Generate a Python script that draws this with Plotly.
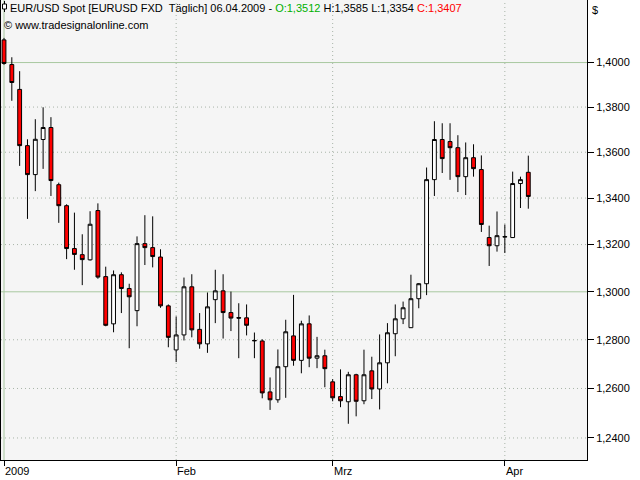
import math
import pandas as pd
import plotly.graph_objects as go

# ---- data (EUR/USD daily, 01.01.2009 - 06.04.2009) ----
dates = pd.bdate_range("2009-01-01", "2009-04-06")

open_ = [1.4103, 1.3991, 1.3879, 1.3629, 1.3502, 1.3656, 1.3709, 1.3458, 1.3367, 1.3183,
         1.3157, 1.3135, 1.3346, 1.3064, 1.2866, 1.3072, 1.3014, 1.2921, 1.3204, 1.3187,
         1.3147, 1.2941, 1.2758, 1.2820, 1.3021, 1.2843, 1.2783, 1.2967, 1.3004, 1.2913,
         1.2892, 1.2891, 1.2797, 1.2795, 1.2586, 1.2554, 1.2689, 1.2816, 1.2715, 1.2866,
         1.2724, 1.2734, 1.2627, 1.2567, 1.2546, 1.2656, 1.2550, 1.2672, 1.2598, 1.2705,
         1.2825, 1.2887, 1.2850, 1.2971, 1.3034, 1.3480, 1.3656, 1.3647, 1.3620, 1.3493,
         1.3576, 1.3524, 1.3230, 1.3195, 1.3232, 1.3230, 1.3463, 1.3512]
high = [1.4112, 1.4024, 1.3961, 1.3657, 1.3746, 1.3799, 1.3755, 1.3467, 1.3373, 1.3337,
        1.3244, 1.3343, 1.3377, 1.3106, 1.3090, 1.3082, 1.3034, 1.3235, 1.3326, 1.3321,
        1.3180, 1.2947, 1.2897, 1.3060, 1.3074, 1.2911, 1.2997, 1.3093, 1.3074, 1.3001,
        1.2952, 1.2947, 1.2830, 1.2802, 1.2645, 1.2760, 1.2883, 1.2987, 1.2879, 1.2901,
        1.2812, 1.2759, 1.2638, 1.2678, 1.2668, 1.2660, 1.2759, 1.2730, 1.2822, 1.2869,
        1.2947, 1.2959, 1.3072, 1.3037, 1.3533, 1.3737, 1.3728, 1.3728, 1.3675, 1.3643,
        1.3635, 1.3586, 1.3281, 1.3342, 1.3286, 1.3515, 1.3493, 1.3585]
low = [1.3990, 1.3828, 1.3540, 1.3310, 1.3430, 1.3527, 1.3409, 1.3293, 1.3138, 1.3093,
       1.3028, 1.3132, 1.3055, 1.2856, 1.2831, 1.2911, 1.2765, 1.2856, 1.3113, 1.3103,
       1.2933, 1.2769, 1.2708, 1.2797, 1.2810, 1.2763, 1.2746, 1.2869, 1.2805, 1.2836,
       1.2724, 1.2818, 1.2724, 1.2560, 1.2513, 1.2542, 1.2562, 1.2693, 1.2662, 1.2687,
       1.2683, 1.2605, 1.2548, 1.2524, 1.2457, 1.2487, 1.2536, 1.2557, 1.2515, 1.2621,
       1.2732, 1.2865, 1.2849, 1.2931, 1.2986, 1.3409, 1.3509, 1.3479, 1.3426, 1.3413,
       1.3493, 1.3254, 1.3109, 1.3170, 1.3164, 1.3228, 1.3357, 1.3354]
close = [1.3996, 1.3910, 1.3629, 1.3502, 1.3657, 1.3709, 1.3476, 1.3367, 1.3183, 1.3158,
         1.3136, 1.3287, 1.3062, 1.2860, 1.3072, 1.3014, 1.2979, 1.3204, 1.3187, 1.3149,
         1.2941, 1.2810, 1.2820, 1.3021, 1.2841, 1.2783, 1.2937, 1.3004, 1.2913, 1.2890,
         1.2890, 1.2860, 1.2796, 1.2582, 1.2554, 1.2689, 1.2833, 1.2715, 1.2866, 1.2724,
         1.2734, 1.2681, 1.2562, 1.2550, 1.2656, 1.2548, 1.2656, 1.2598, 1.2705, 1.2829,
         1.2887, 1.2933, 1.2971, 1.3034, 1.3480, 1.3656, 1.3572, 1.3620, 1.3493, 1.3576,
         1.3528, 1.3286, 1.3195, 1.3238, 1.3234, 1.3463, 1.3480, 1.3407]

month_labels = ["2009", "Feb", "Mrz", "Apr"]
y_tick_values = [1.24, 1.26, 1.28, 1.30, 1.32, 1.34, 1.36, 1.38, 1.40]
ref_levels = [1.30, 1.40]
y_limits = [1.2312, 1.4286]

header_text = ("EUR/USD Spot [EURUSD FXD&nbsp; Täglich] 06.04.2009 - "
               "<span style='color:#00b000'>O:1,3512</span> H:1,3585 L:1,3354 "
               "<span style='color:#ff0000'>C:1,3407</span>")
copyright_text = "© www.tradesignalonline.com"

# ---- figure ----
x = list(range(len(dates)))
month_idx = [0] + [i for i in range(1, len(dates)) if dates[i].month != dates[i - 1].month]
y_tick_text = [f"{v:.4f}".replace(".", ",") for v in y_tick_values]

FONT = "Liberation Sans, Arial, sans-serif"
W, H = 640, 480
ML, MR, MT, MB = 1, 53, 0, 20
PW, PH = W - ML - MR, H - MT - MB

def px(xp):
    return (xp - ML) / PW

def py(yp):
    return 1 - (yp - MT) / PH

fig = go.Figure(go.Candlestick(
    x=x, open=open_, high=high, low=low, close=close,
    increasing=dict(fillcolor="#ffffff", line=dict(color="#000000", width=1)),
    decreasing=dict(fillcolor="#ff0000", line=dict(color="#000000", width=1)),
    whiskerwidth=0, hoverinfo="skip",
))

DOT = "1px,3px"
GREEN = "#a8c8a0"
DOTCOL = "#a8b4a8"
shapes = []
for v in y_tick_values:
    solid = any(abs(v - r) < 1e-9 for r in ref_levels)
    shapes.append(dict(type="line", xref="paper", yref="y", x0=0, x1=1,
                       y0=v, y1=v, layer="below",
                       line=dict(color=GREEN if solid else DOTCOL, width=1,
                                 dash="solid" if solid else DOT)))
for k, mi in enumerate(month_idx):
    shapes.append(dict(type="line", xref="x", yref="paper", x0=mi, x1=mi, y0=0, y1=1,
                       layer="below",
                       line=dict(color=GREEN if k == 0 else DOTCOL, width=1,
                                 dash="solid" if k == 0 else DOT)))
# small chart icon in header
shapes.append(dict(type="line", xref="paper", yref="paper", x0=px(4.5), x1=px(4.5),
                   y0=py(1), y1=py(12), line=dict(color="#000000", width=1)))
shapes.append(dict(type="rect", xref="paper", yref="paper", x0=px(2.5), x1=px(6.5),
                   y0=py(4), y1=py(9), fillcolor="#ffffff",
                   line=dict(color="#000000", width=1)))

annotations = [
    dict(text=header_text, xref="paper", yref="paper", x=px(8), y=py(8),
         xanchor="left", yanchor="middle", showarrow=False,
         font=dict(family=FONT, size=11, color="#000000")),
    dict(text=copyright_text, xref="paper", yref="paper", x=px(2), y=py(25),
         xanchor="left", yanchor="middle", showarrow=False,
         font=dict(family=FONT, size=11, color="#000000")),
    dict(text="$", xref="paper", yref="paper", x=px(590), y=py(10),
         xanchor="left", yanchor="middle", showarrow=False,
         font=dict(family=FONT, size=11, color="#000000")),
]
for mi, lab in zip(month_idx, month_labels):
    annotations.append(dict(text=lab, xref="x", yref="paper", x=mi, y=0,
                            xanchor="left", yanchor="top", xshift=-1, yshift=-3,
                            showarrow=False,
                            font=dict(family=FONT, size=11, color="#000000")))

fig.update_layout(
    width=W, height=H,
    margin=dict(l=ML, r=MR, t=MT, b=MB),
    paper_bgcolor="#ffffff", plot_bgcolor="#f5f5f5",
    showlegend=False,
    boxgap=0.3,
    font=dict(family=FONT, size=11, color="#000000"),
    shapes=shapes, annotations=annotations,
    xaxis=dict(range=[-0.383, 74.5], showgrid=False, zeroline=False,
               showline=True, linecolor="#000000", linewidth=1, mirror=True,
               tickmode="array", tickvals=month_idx, ticks="outside",
               ticklen=5, tickcolor="#000000", showticklabels=False,
               rangeslider=dict(visible=False), fixedrange=True),
    yaxis=dict(type="log", side="right",
               range=[math.log10(y_limits[0]), math.log10(y_limits[1])],
               tickmode="array", tickvals=y_tick_values, ticktext=y_tick_text,
               ticks="outside", ticklen=6, tickcolor="#000000",
               showgrid=False,
               zeroline=False, showline=True, linecolor="#000000", linewidth=1,
               mirror=True, fixedrange=True,
               tickfont=dict(family=FONT, size=11, color="#000000")),
)

fig.write_html("out.html",
               config={"displayModeBar": False, "staticPlot": True},
               post_script="document.body.style.margin='0';document.body.style.overflow='hidden';")
